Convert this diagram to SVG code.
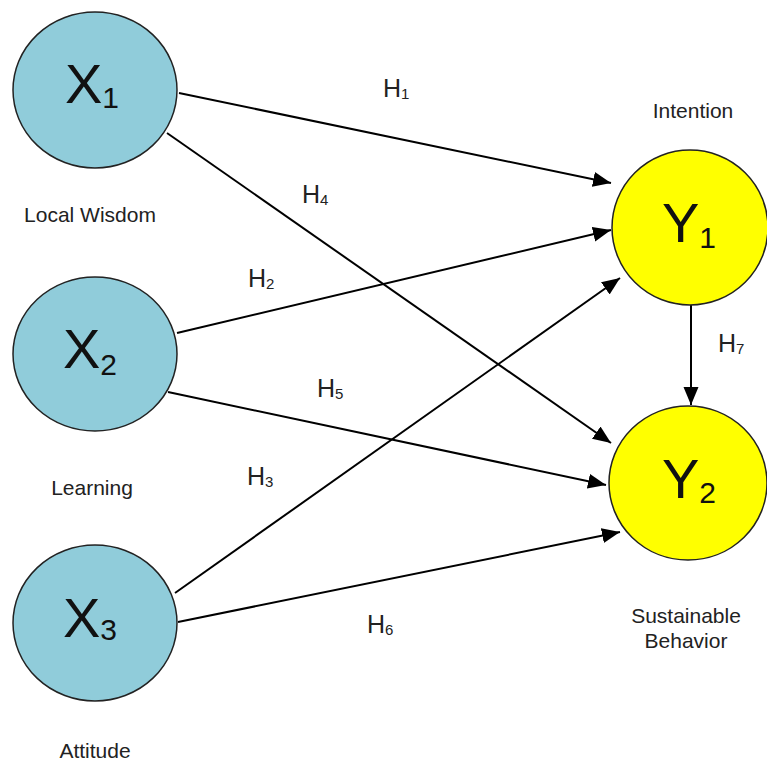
<svg xmlns="http://www.w3.org/2000/svg" width="767" height="762" viewBox="0 0 767 762">
<defs>
<marker id="arr" markerUnits="userSpaceOnUse" markerWidth="20" markerHeight="16" refX="18" refY="7.5" orient="auto">
<path d="M0,0 L18,7.5 L0,15 z" fill="#000"/>
</marker>
<style>
.x{fill:#90CCDA;stroke:#222;stroke-width:1.5}
.y{fill:#FFFF00;stroke:#222;stroke-width:1.5}
.big{font-family:"Liberation Sans",Arial,sans-serif;font-size:56px;fill:#111}
.sub{font-size:30px}
.lbl{font-family:"Liberation Sans",Arial,sans-serif;font-size:21px;fill:#222;text-anchor:middle}
.h{font-family:"Liberation Sans",Arial,sans-serif;font-size:25px;fill:#222}
.hs{font-size:15px}
.c line{stroke:#000;stroke-width:2;marker-end:url(#arr)}
</style>
</defs>
<rect width="767" height="762" fill="#fff"/>
<g class="c" id="connectors">
<line x1="179" y1="93" x2="611" y2="183"/>
<line x1="167" y1="133" x2="611" y2="443"/>
<line x1="177" y1="333" x2="611" y2="230"/>
<line x1="168" y1="392" x2="606" y2="485"/>
<line x1="175" y1="593" x2="620" y2="278"/>
<line x1="178" y1="622" x2="620" y2="532"/>
<line x1="691" y1="305" x2="691" y2="405"/>
</g>
<g id="hlabels">
<text class="h" x="383" y="97">H<tspan class="hs" dy="2">1</tspan></text>
<text class="h" x="302" y="203">H<tspan class="hs" dy="2">4</tspan></text>
<text class="h" x="248" y="287">H<tspan class="hs" dy="2">2</tspan></text>
<text class="h" x="317" y="397">H<tspan class="hs" dy="2">5</tspan></text>
<text class="h" x="247" y="485">H<tspan class="hs" dy="2">3</tspan></text>
<text class="h" x="367" y="633">H<tspan class="hs" dy="2">6</tspan></text>
<text class="h" x="718" y="352">H<tspan class="hs" dy="2">7</tspan></text>
</g>
<g id="X1">
<ellipse class="x" cx="95" cy="90" rx="82" ry="78"/>
<text class="big" x="65" y="103">X<tspan class="sub" dy="5">1</tspan></text>
<text class="lbl" x="90" y="222">Local Wisdom</text>
</g>
<g id="X2">
<ellipse class="x" cx="95" cy="354" rx="82" ry="77"/>
<text class="big" x="63" y="368">X<tspan class="sub" dy="7">2</tspan></text>
<text class="lbl" x="92" y="495">Learning</text>
</g>
<g id="X3">
<ellipse class="x" cx="95" cy="623" rx="82" ry="78"/>
<text class="big" x="63" y="637">X<tspan class="sub" dy="3">3</tspan></text>
<text class="lbl" x="95" y="758">Attitude</text>
</g>
<g id="Y1">
<ellipse class="y" cx="690" cy="227.5" rx="78" ry="77.5"/>
<text class="big" x="662" y="242">Y<tspan class="sub" dy="6">1</tspan></text>
<text class="lbl" x="693" y="118">Intention</text>
</g>
<g id="Y2">
<ellipse class="y" cx="688" cy="483" rx="79" ry="77"/>
<text class="big" x="662" y="498">Y<tspan class="sub" dy="5">2</tspan></text>
<text class="lbl" x="686" y="623">Sustainable</text>
<text class="lbl" x="686" y="648">Behavior</text>
</g>
</svg>
